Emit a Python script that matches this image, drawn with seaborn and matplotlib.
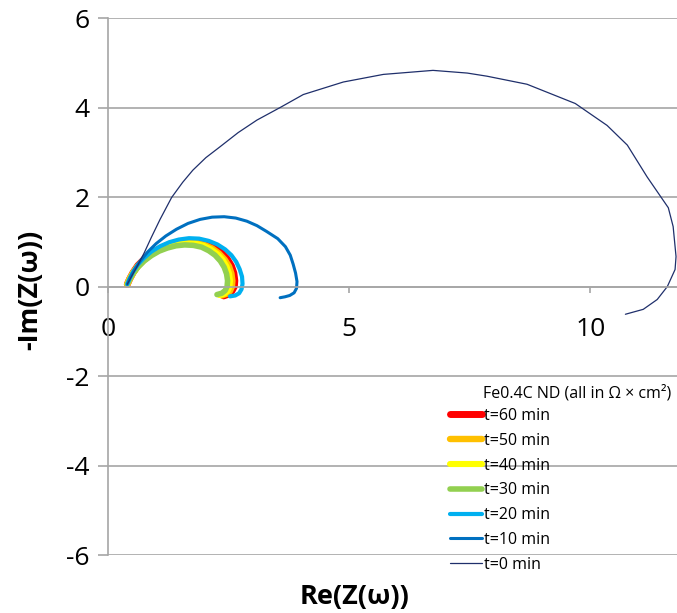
"""Nyquist plot of Fe0.4C ND impedance over time, Excel-like styling."""
import matplotlib
matplotlib.use('Agg')
import pandas as pd
import seaborn as sns
from matplotlib import pyplot as plt

# series labels (legend order, also drawing order: t=60 at the bottom)
series = ['t=60 min', 't=50 min', 't=40 min', 't=30 min',
          't=20 min', 't=10 min', 't=0 min']

# Re(Z) / -Im(Z) values, one pair of lists per series
re_60 = [0.40, 0.45, 0.52, 0.62, 0.75, 0.90, 1.08, 1.26, 1.45, 1.65, 1.84, 2.03, 2.20,
         2.35, 2.47, 2.56, 2.61, 2.63, 2.62, 2.57, 2.50, 2.40]
im_60 = [0.05, 0.17, 0.31, 0.47, 0.61, 0.74, 0.85, 0.93, 0.98, 1.00, 1.00, 0.95, 0.87,
         0.76, 0.62, 0.46, 0.30, 0.13, 0.00, -0.10, -0.17, -0.21]
re_50 = [0.40, 0.45, 0.52, 0.62, 0.75, 0.90, 1.07, 1.25, 1.44, 1.63, 1.82, 2.00, 2.16,
         2.30, 2.42, 2.51, 2.56, 2.58, 2.57, 2.53, 2.46, 2.36]
im_50 = [0.05, 0.17, 0.31, 0.46, 0.60, 0.73, 0.84, 0.91, 0.96, 0.98, 0.98, 0.93, 0.85,
         0.74, 0.60, 0.45, 0.29, 0.13, 0.00, -0.10, -0.16, -0.20]
re_40 = [0.40, 0.45, 0.52, 0.62, 0.75, 0.90, 1.07, 1.25, 1.43, 1.62, 1.80, 1.98, 2.13,
         2.27, 2.38, 2.46, 2.51, 2.53, 2.52, 2.48, 2.41, 2.31]
im_40 = [0.05, 0.17, 0.30, 0.45, 0.59, 0.72, 0.82, 0.89, 0.94, 0.96, 0.96, 0.91, 0.83,
         0.72, 0.59, 0.44, 0.29, 0.13, 0.00, -0.10, -0.16, -0.19]
re_30 = [0.40, 0.45, 0.52, 0.62, 0.75, 0.90, 1.06, 1.23, 1.41, 1.59, 1.77, 1.94, 2.09,
         2.22, 2.33, 2.41, 2.46, 2.48, 2.47, 2.43, 2.36, 2.26]
im_30 = [0.05, 0.16, 0.29, 0.43, 0.57, 0.69, 0.79, 0.86, 0.91, 0.93, 0.92, 0.88, 0.80,
         0.70, 0.57, 0.43, 0.28, 0.13, 0.00, -0.09, -0.15, -0.18]
re_20 = [0.40, 0.45, 0.52, 0.62, 0.75, 0.90, 1.08, 1.27, 1.47, 1.68, 1.89, 2.09, 2.27,
         2.43, 2.56, 2.66, 2.73, 2.78, 2.79, 2.77, 2.72, 2.64, 2.53]
im_20 = [0.05, 0.18, 0.33, 0.49, 0.64, 0.78, 0.90, 0.99, 1.05, 1.08, 1.07, 1.02, 0.94,
         0.83, 0.70, 0.55, 0.39, 0.22, 0.06, -0.06, -0.15, -0.20, -0.22]
re_10 = [0.40, 0.46, 0.55, 0.67, 0.82, 1.00, 1.20, 1.42, 1.66, 1.91, 2.16, 2.41, 2.65,
         2.88, 3.09, 3.29, 3.52, 3.68, 3.78, 3.84, 3.89, 3.92, 3.91, 3.86, 3.77, 3.67, 3.57]
im_10 = [0.05, 0.20, 0.38, 0.57, 0.77, 0.96, 1.13, 1.28, 1.41, 1.50, 1.55, 1.56, 1.53,
         1.46, 1.36, 1.23, 1.07, 0.89, 0.70, 0.50, 0.30, 0.11, -0.04, -0.14, -0.20, -0.23,
         -0.25]
re_0 = [0.40, 0.50, 0.62, 0.75, 0.90, 1.08, 1.32, 1.55, 1.76, 2.03, 2.32, 2.70, 3.09,
        3.57, 4.05, 4.88, 5.71, 6.74, 7.45, 7.86, 8.69, 9.69, 10.35, 10.77, 11.18, 11.62,
        11.72, 11.78, 11.76, 11.60, 11.39, 11.10, 10.73]
im_0 = [0.05, 0.25, 0.48, 0.75, 1.10, 1.50, 1.99, 2.33, 2.60, 2.88, 3.12, 3.44, 3.72,
        4.00, 4.29, 4.57, 4.74, 4.83, 4.77, 4.70, 4.52, 4.09, 3.60, 3.16, 2.45, 1.76,
        1.34, 0.67, 0.38, 0.00, -0.29, -0.51, -0.62]

y_ticks = [-6, -4, -2, 0, 2, 4, 6]
x_ticks = [0, 5, 10]

colors = {'t=60 min': '#ff0000', 't=50 min': '#ffc000', 't=40 min': '#ffff00',
          't=30 min': '#92d050', 't=20 min': '#00b0f0', 't=10 min': '#0070c0',
          't=0 min': '#1f2f6b'}
widths = {'t=60 min': 5.0, 't=50 min': 4.6, 't=40 min': 4.4, 't=30 min': 4.0,
          't=20 min': 3.0, 't=10 min': 2.2, 't=0 min': 0.9}

pairs = [(re_60, im_60), (re_50, im_50), (re_40, im_40), (re_30, im_30),
         (re_20, im_20), (re_10, im_10), (re_0, im_0)]
frames = []
for name, (re_vals, im_vals) in zip(series, pairs):
    frames.append(pd.DataFrame({'re': re_vals, 'im': im_vals, 't': name}))
df = pd.concat(frames, ignore_index=True)

sns.set_theme(style='white')
plt.rcParams['font.family'] = ['Open Sans', 'DejaVu Sans']
plt.rcParams['axes.unicode_minus'] = False
plt.rcParams['text.color'] = 'black'
plt.rcParams['xtick.labelcolor'] = 'black'
plt.rcParams['ytick.labelcolor'] = 'black'
GRID = '#a6a6a6'

fig, ax = plt.subplots(figsize=(6.77, 6.13), dpi=100)
fig.subplots_adjust(left=0.1595, right=1.0, top=0.9706, bottom=0.0946)

sns.lineplot(data=df, x='re', y='im', hue='t', size='t', hue_order=series,
             size_order=series, palette=colors, sizes=widths, sort=False,
             estimator=None, ax=ax)

ax.set_xlim(0, 11.8)
ax.set_ylim(-6, 6)
ax.set_yticks(y_ticks)
ax.set_xticks(x_ticks)
ax.yaxis.grid(True, color=GRID, linewidth=1.2)
ax.set_axisbelow(True)

for side in ['top', 'right']:
    ax.spines[side].set_visible(False)
ax.spines['left'].set_color(GRID)
ax.spines['left'].set_linewidth(1.2)
ax.spines['bottom'].set_position(('data', 0))
ax.spines['bottom'].set_color(GRID)
ax.spines['bottom'].set_linewidth(1.2)

ax.tick_params(axis='y', direction='out', length=7, width=1.2, color=GRID,
               labelsize=19, pad=6, left=True)
ax.tick_params(axis='x', direction='out', length=4, width=1.2, color=GRID,
               labelsize=19, pad=18, bottom=True)
ax.set_xlabel('')
ax.set_ylabel('')

fig.text(30 / 677, 1 - 290 / 613, '-Im(Z(ω))', rotation=90, ha='center',
         va='center', fontsize=19.5, fontweight='bold')
fig.text(355 / 677, 1 - 597 / 613, 'Re(Z(ω))', ha='center', va='center',
         fontsize=19.5, fontweight='bold')

handles, labels = ax.get_legend_handles_labels()
ax.legend(handles, labels, loc='upper left', frameon=False, fontsize=11.5,
          bbox_to_anchor=(450 / 677, 1 - 408 / 613), bbox_transform=fig.transFigure,
          borderpad=0, borderaxespad=0, handlelength=2.0, handletextpad=0.1,
          labelspacing=0.55)
fig.text(483 / 677, 1 - 393 / 613, 'Fe0.4C ND (all in Ω × cm²)', ha='left',
         va='center', fontsize=11.5)

fig.savefig('out.png', dpi=100)
